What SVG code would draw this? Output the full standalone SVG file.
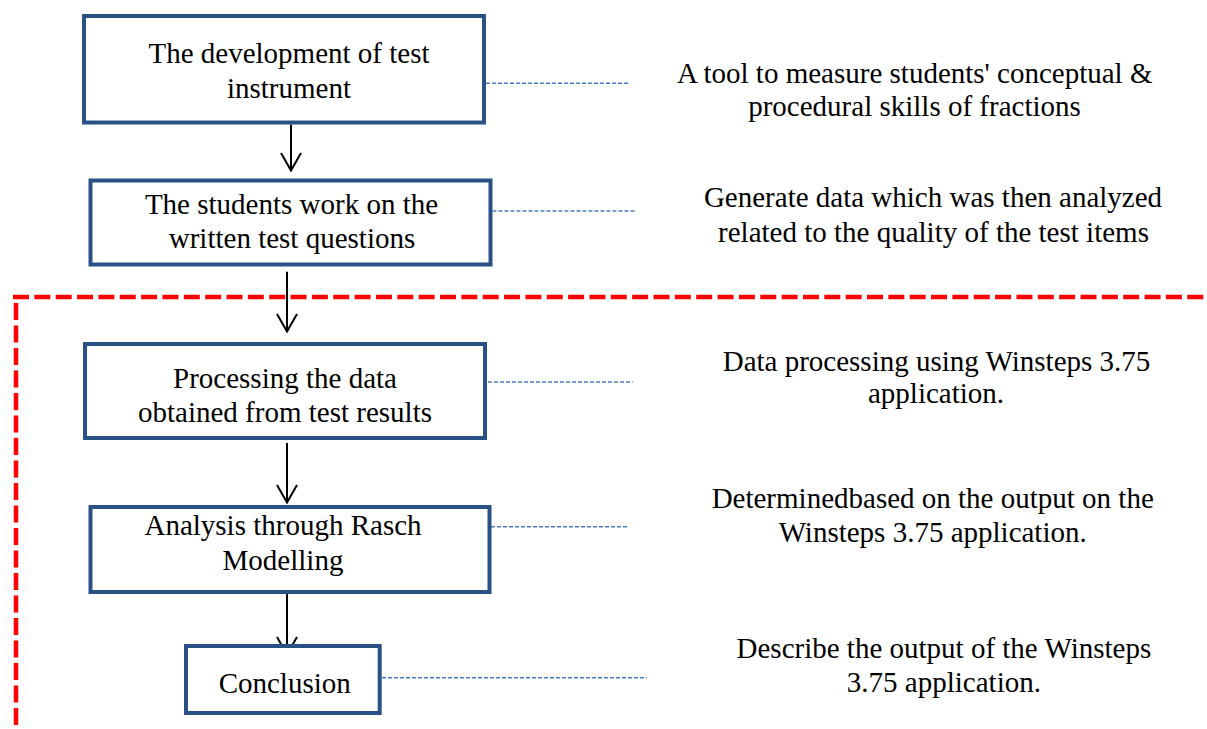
<svg xmlns="http://www.w3.org/2000/svg" width="1207" height="729" viewBox="0 0 1207 729">
<defs>
<style>
.box{fill:#ffffff;stroke:#2a5185;stroke-width:4}
.t{font-family:"Liberation Serif","Times New Roman",serif;font-size:29px;fill:#000000;text-anchor:middle}
.lead{stroke:#4a7ebb;stroke-width:1.5;stroke-dasharray:4 2;fill:none}
.arr{stroke:#000000;stroke-width:2;fill:none}
.red{stroke:#ff0000;stroke-width:4.5;fill:none}
</style>
</defs>
<rect width="1207" height="729" fill="#ffffff"/>
<g id="boundary">
<line class="red" x1="13" y1="297" x2="1207" y2="297" stroke-dasharray="16 5.35"/>
<line class="red" x1="16" y1="303" x2="16" y2="729" stroke-dasharray="17 5.5"/>
</g>
<g id="connectors">
<line class="arr" x1="291" y1="124.5" x2="291" y2="170"/>
<line class="arr" x1="287" y1="271.7" x2="287" y2="331"/>
<line class="arr" x1="287" y1="443" x2="287" y2="502"/>
<line class="arr" x1="287" y1="594" x2="287" y2="654"/>
<path class="arr" d="M281,153 L291,170.5 L301,153 M277,314 L287,331.5 L297,314 M277,485 L287,502.5 L297,485 M277,637 L287,654.5 L297,637"/>
<line class="lead" x1="486" y1="83.3" x2="628.6" y2="83.3"/>
<line class="lead" x1="492.5" y1="211" x2="635" y2="211"/>
<line class="lead" x1="488" y1="382" x2="632.6" y2="382"/>
<line class="lead" x1="485" y1="526.7" x2="629" y2="526.7"/>
<line class="lead" x1="382" y1="677.7" x2="647" y2="677.7"/>
</g>
<g id="n1">
<rect class="box" x="84" y="16" width="400" height="106.5"/>
<text class="t" x="289" y="63.3">The development of test</text>
<text class="t" x="289" y="98.3">instrument</text>
</g>
<g id="n2">
<rect class="box" x="90.5" y="180.5" width="400" height="84"/>
<text class="t" x="291.5" y="214">The students work on the</text>
<text class="t" x="292" y="248">written test questions</text>
</g>
<g id="n3">
<rect class="box" x="85" y="344" width="400" height="94"/>
<text class="t" x="285" y="388">Processing the data</text>
<text class="t" x="285" y="421.7">obtained from test results</text>
</g>
<g id="n4">
<rect class="box" x="90.5" y="507" width="399" height="85"/>
<text class="t" x="283" y="535">Analysis through Rasch</text>
<text class="t" x="283" y="570">Modelling</text>
</g>
<g id="n5">
<rect class="box" x="186" y="646" width="193.7" height="67"/>
<text class="t" x="284.7" y="692.7">Conclusion</text>
</g>
<g id="notes">
<text class="t" x="914.7" y="82.7">A tool to measure students' conceptual &amp;</text>
<text class="t" x="914.5" y="116">procedural skills of fractions</text>
<text class="t" x="933" y="206.7">Generate data which was then analyzed</text>
<text class="t" x="933.5" y="241.7">related to the quality of the test items</text>
<text class="t" x="936.5" y="370.7">Data processing using Winsteps 3.75</text>
<text class="t" x="936" y="402.7">application.</text>
<text class="t" x="932.7" y="508">Determinedbased on the output on the</text>
<text class="t" x="932.7" y="541.7">Winsteps 3.75 application.</text>
<text class="t" x="943.9" y="658">Describe the output of the Winsteps</text>
<text class="t" x="943.9" y="691.7">3.75 application.</text>
</g>
</svg>
